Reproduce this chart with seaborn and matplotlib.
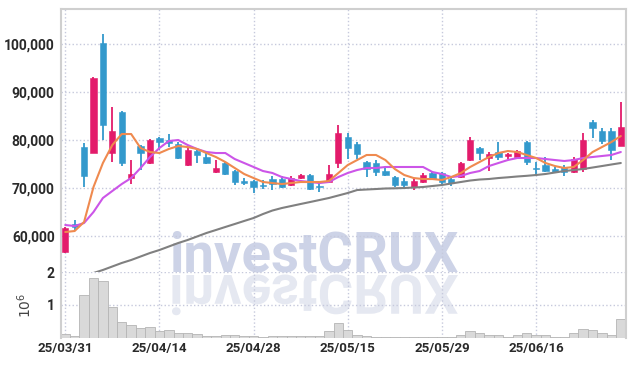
import numpy as np
import pandas as pd
import matplotlib
matplotlib.use("Agg")
import matplotlib.pyplot as plt
import seaborn as sns
from matplotlib.textpath import TextPath
from matplotlib.patches import PathPatch
from matplotlib.font_manager import FontProperties
from matplotlib.transforms import Affine2D, IdentityTransform
from matplotlib.ticker import FuncFormatter, FixedLocator

# ====== DATA ======
dates = (
    ["25/03/31"]
    + ["25/04/%02d" % d for d in [1, 2, 3, 4, 7, 8, 9, 10, 11, 14, 15, 16, 17, 18,
                                   21, 22, 23, 24, 25, 28, 29, 30]]
    + ["25/05/%02d" % d for d in [2, 7, 8, 9, 12, 13, 14, 15, 16, 19, 20, 21, 22, 23,
                                   26, 27, 28, 29, 30]]
    + ["25/06/%02d" % d for d in [2, 4, 5, 9, 10, 11, 12, 13, 16, 17, 18, 19, 20,
                                   23, 24, 25, 26, 27]]
)
tick_labels = ["25/03/31", "25/04/14", "25/04/28", "25/05/15", "25/05/29", "25/06/16"]

opens = [56700, 62500, 78540, 77290, 100200, 77290, 85830, 72080, 78750, 75210,
         80420, 80000, 79170, 74790, 77710, 76460, 73330, 75210, 73540, 71460,
         71460, 70630, 71880, 71880, 70630, 72080, 72710, 70300, 71250, 75210,
         80630, 79170, 75420, 75210, 73540, 72290, 71460, 70210, 71250, 73130,
         73130, 71880, 72290, 75830, 78330, 76250, 77500, 76670, 76460, 79580,
         74170, 74790, 73960, 74380, 73330, 73960, 83750, 81880, 81880, 78750]
highs = [61900, 63300, 79380, 93130, 102080, 86880, 86040, 75830, 78960, 80210,
         80630, 81250, 79580, 78540, 77920, 77290, 75830, 75420, 73750, 72080,
         71670, 71670, 72500, 72500, 72500, 72920, 72920, 71040, 74790, 83130,
         81460, 79580, 75630, 75830, 74380, 72500, 72080, 71880, 73130, 73540,
         73340, 72080, 75420, 80630, 78540, 77500, 79580, 77290, 77920, 79790,
         75420, 76460, 74380, 74790, 76460, 81460, 84170, 82500, 82500, 87920]
lows = [56500, 61000, 70200, 77290, 80000, 75420, 74580, 70830, 73750, 75000,
        77920, 78540, 76040, 74580, 75210, 75000, 73130, 72710, 70630, 70630,
        68960, 69790, 69580, 70000, 70420, 71880, 69580, 69170, 71040, 74170,
        76040, 76040, 72290, 72500, 72500, 70210, 70210, 69580, 71040, 71670,
        70630, 70420, 72080, 75630, 75830, 73540, 75830, 76040, 76040, 74790,
        72500, 73330, 73130, 72500, 73130, 73330, 80420, 79170, 75830, 78750]
closes = [61700, 61900, 72500, 92920, 83130, 81880, 75210, 72920, 77290, 80000,
          79580, 79380, 76250, 77920, 76880, 75210, 74170, 72920, 71250, 71040,
          70210, 70420, 70830, 70210, 72080, 72710, 69790, 70200, 72920, 81460,
          78330, 77080, 73960, 73330, 72710, 70630, 70630, 71460, 72710, 71880,
          71250, 71040, 75210, 80000, 77290, 77080, 76460, 77080, 77710, 75420,
          73960, 73540, 73330, 73330, 76040, 80000, 82500, 79790, 77920, 82710]

ma5 = [60830, 61040, 62920, 70210, 75210, 78960, 81250, 81250, 78330, 77500,
       77290, 78130, 78750, 78540, 78130, 77290, 76460, 75420, 74170, 72920,
       72080, 71250, 71040, 70830, 71040, 71250, 71250, 71250, 71460, 73120,
       74790, 75830, 76880, 76880, 75830, 73960, 72710, 72080, 71870, 71870,
       71670, 72290, 73120, 74380, 75420, 76460, 77290, 77710, 77500, 76880,
       76250, 75210, 74580, 74170, 74380, 75830, 77500, 78540, 79580, 80830]
ma20 = [62290, 62080, 62710, 65000, 67920, 69380, 70830, 72080, 74170, 76460,
        78330, 79790, 80000, 78960, 78130, 77500, 77290, 77290, 76040, 75210,
        74380, 73540, 73130, 72290, 71880, 71460, 71250, 71040, 71250, 72290,
        73130, 73750, 74170, 74170, 74380, 74380, 74380, 74380, 74380, 73330,
        72920, 72290, 72500, 73130, 73540, 74580, 75210, 75830, 76250, 76250,
        76250, 76040, 75830, 75630, 75830, 76250, 76460, 76670, 76880, 77500]
ma_long = [50200, 50830, 51670, 52290, 52920, 53650, 54380, 55000, 55730, 56460,
           57080, 57810, 58540, 59170, 59900, 60630, 61250, 61880, 62500, 63130,
           63750, 64580, 65310, 65830, 66250, 66670, 67080, 67500, 67920, 68440,
           68960, 69580, 69690, 69790, 69900, 69940, 70000, 70100, 70210, 70420,
           70630, 70940, 71250, 71560, 71770, 71880, 72080, 72230, 72400, 72540,
           72710, 72920, 73230, 73540, 73750, 73960, 74270, 74580, 74900, 75210]

volume_m = [0.13, 0.07, 1.31, 1.82, 1.74, 0.93, 0.48, 0.38, 0.29, 0.32,
            0.21, 0.24, 0.15, 0.15, 0.11, 0.07, 0.07, 0.09, 0.09, 0.07,
            0.06, 0.04, 0.06, 0.06, 0.06, 0.06, 0.05, 0.05, 0.20, 0.44,
            0.25, 0.10, 0.07, 0.04, 0.03, 0.03, 0.03, 0.03, 0.03, 0.03,
            0.03, 0.03, 0.10, 0.22, 0.15, 0.10, 0.10, 0.04, 0.10, 0.15,
            0.10, 0.10, 0.04, 0.04, 0.15, 0.28, 0.25, 0.15, 0.10, 0.58]
# ==================

UP_COLOR = "#e31b6b"
DOWN_COLOR = "#3399cc"
W, H = 634, 366

df = pd.DataFrame({"date": dates, "open": opens, "high": highs,
                   "low": lows, "close": closes, "vol": volume_m})
df["idx"] = np.arange(len(df))

sns.set_theme(style="white")
plt.rcParams["font.family"] = ["Roboto", "DejaVu Sans"]

fig = plt.figure(figsize=(W / 100, H / 100), dpi=100)


def box(l, t, r, b):
    return [l / W, 1 - b / H, (r - l) / W, (b - t) / H]


ax = fig.add_axes(box(61, 9, 626, 272))
axv = fig.add_axes(box(61, 272, 626, 338))
for a in (ax, axv):
    a.set_facecolor("none")

# watermark text + mirrored reflection, sized to span x 172..458, baseline y 272
WM = "investCRUX"
fp = FontProperties(family=["Roboto", "DejaVu Sans"], weight="bold")
ext100 = TextPath((0, 0), WM, size=100, prop=fp).get_extents()
size_px = 100 * (458 - 172) / ext100.width
x_left = 172 - ext100.x0 * size_px / 100
base_y = H - 272
fig.text(x_left / W, base_y / H, WM, fontproperties=fp, fontsize=size_px * 72 / 100,
         color="#cdd3e7", ha="left", va="baseline", zorder=-5)
tp = TextPath((0, 0), WM, size=size_px, prop=fp)
refl = Affine2D().scale(1, -1).translate(x_left, base_y - 3).transform_path(tp)
fig.add_artist(PathPatch(refl, facecolor="#e5e8f1", edgecolor="none",
                         transform=IdentityTransform(), zorder=-5))

# candles
up = df["close"] >= df["open"]
colors = np.where(up, UP_COLOR, DOWN_COLOR)
ax.vlines(df["idx"], df["low"], df["high"], colors=colors, linewidth=1.3, zorder=3)
body_lo = np.minimum(df["open"], df["close"])
body_h = np.maximum(np.abs(df["close"] - df["open"]), 150)
ax.bar(df["idx"], body_h, bottom=body_lo, width=0.66, color=colors,
       edgecolor=colors, linewidth=0.4, zorder=4)

# moving averages
ma_df = pd.concat([
    pd.DataFrame({"idx": df["idx"], "value": ma_long, "ma": "long"}),
    pd.DataFrame({"idx": df["idx"], "value": ma20, "ma": "ma20"}),
    pd.DataFrame({"idx": df["idx"], "value": ma5, "ma": "ma5"}),
])
sns.lineplot(data=ma_df, x="idx", y="value", hue="ma",
             palette={"long": "#808080", "ma20": "#cc55e8", "ma5": "#ef8a4f"},
             linewidth=1.5, legend=False, ax=ax, zorder=5)

# volume
axv.bar(df["idx"], df["vol"], width=1.0, color="#d9d9d9",
        edgecolor="#b5b5b5", linewidth=0.6, zorder=2)

tick_pos = [dates.index(t) for t in tick_labels]
for a in (ax, axv):
    a.set_xlim(-0.45, len(dates) - 0.45)
    a.xaxis.set_major_locator(FixedLocator(tick_pos))
    a.grid(True, color="#c6c9dc", linestyle=":", linewidth=1.0)
    a.set_axisbelow(True)
    a.tick_params(length=0)
    for s in a.spines.values():
        s.set_color("#cfcfcf")
        s.set_linewidth(1.5)

ax.set_ylim(52500, 107300)
ax.set_yticks([60000, 70000, 80000, 90000, 100000])
ax.yaxis.set_major_formatter(FuncFormatter(lambda v, p: f"{v:,.0f}"))
ax.set_xticklabels([])
ax.spines["bottom"].set_visible(False)
ax.set_xlabel("")
ax.set_ylabel("")

axv.set_ylim(0, 2.0)
axv.set_yticks([1, 2])
axv.set_xticklabels(tick_labels)
axv.spines["top"].set_visible(False)
axv.spines["bottom"].set_visible(False)
axv.set_xlabel("")
axv.set_ylabel("$10^6$", fontsize=10, color="#444444", family="DejaVu Sans")
axv.yaxis.set_label_coords(-0.048, 0.5)

for lab in ax.get_yticklabels() + axv.get_yticklabels():
    lab.set_fontweight("bold")
    lab.set_fontsize(10)
    lab.set_color("#2a2a2a")
for lab in axv.get_xticklabels():
    lab.set_fontweight("bold")
    lab.set_fontsize(9.5)
    lab.set_color("#2a2a2a")
ax.tick_params(axis="y", pad=4.5)
axv.tick_params(axis="y", pad=4.5)
axv.tick_params(axis="x", pad=3)

fig.savefig("out.png", dpi=100)
